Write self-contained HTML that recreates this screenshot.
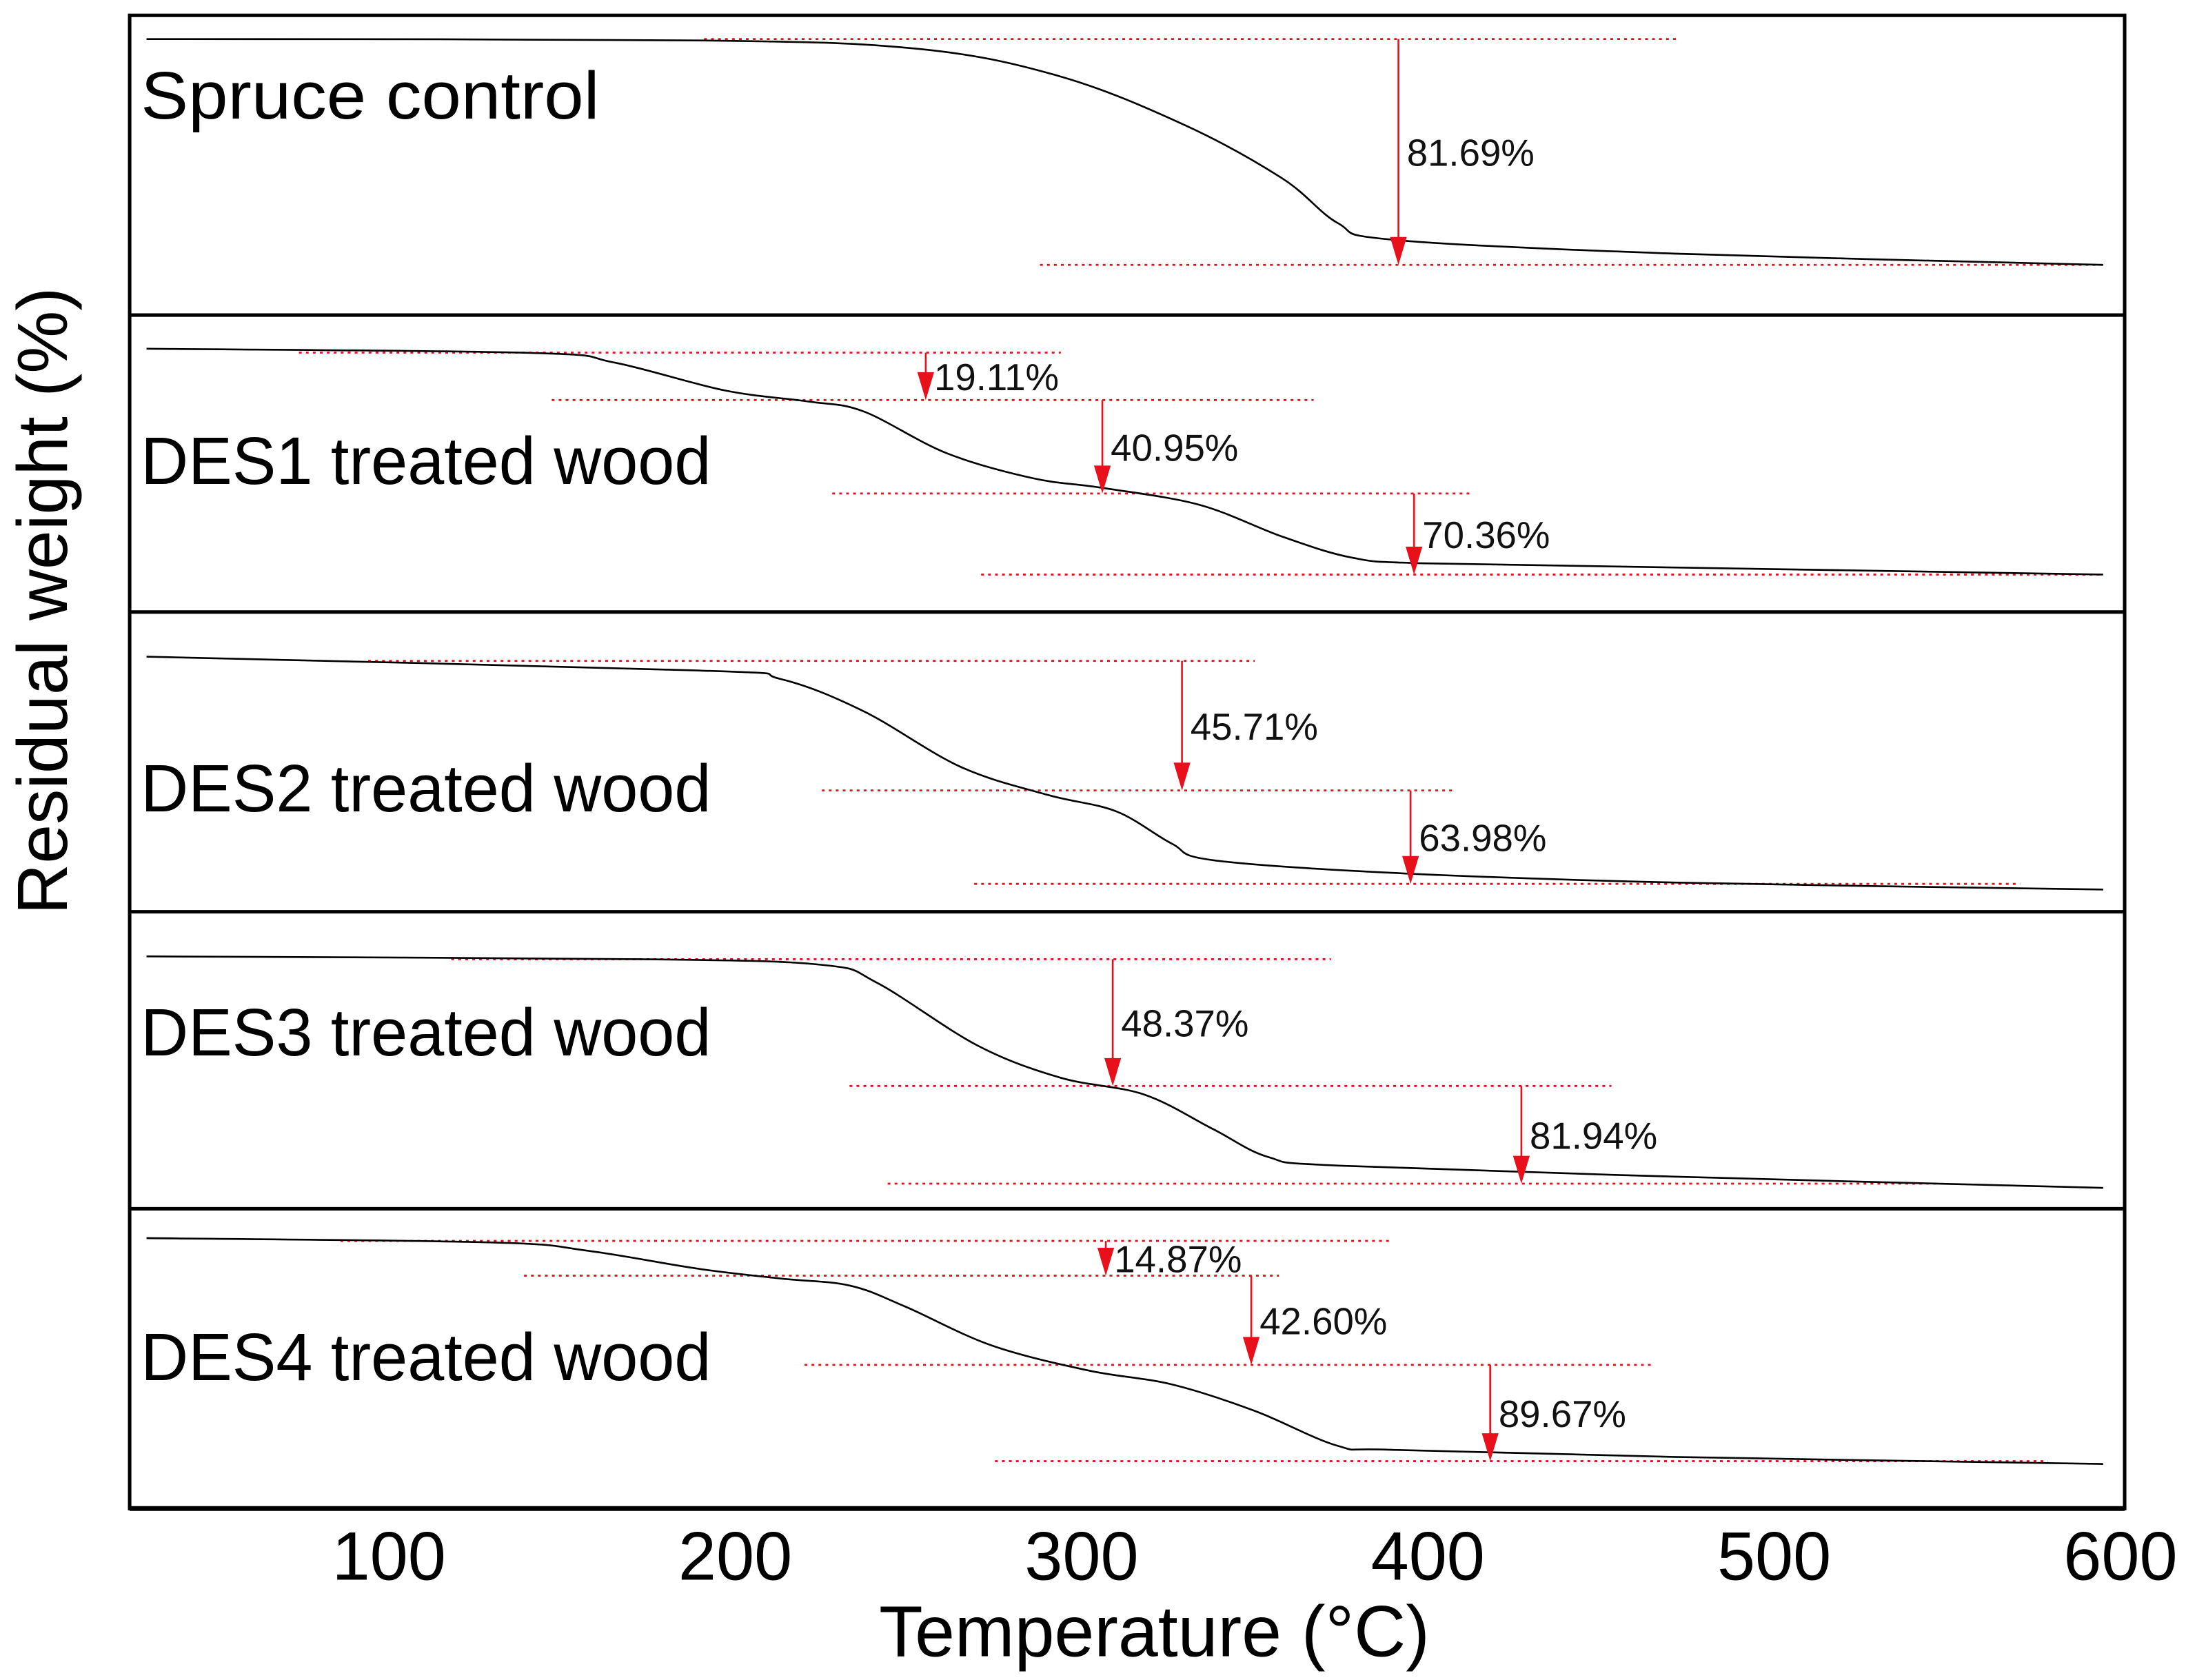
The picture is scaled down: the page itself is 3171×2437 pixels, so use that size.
<!DOCTYPE html>
<html><head><meta charset="utf-8"><style>
html,body{margin:0;padding:0;background:#fff;}
svg{display:block;font-family:"Liberation Sans",Arial,sans-serif;}
</style></head><body>
<svg id="chart" width="3171" height="2437" viewBox="0 0 1568 1205" preserveAspectRatio="none" xmlns="http://www.w3.org/2000/svg">
<rect x="0" y="0" width="1568" height="1205" fill="#fff"/>
<g id="marks"></g>
<g id="frame"></g>
<text transform="translate(48,431) rotate(-90)" text-anchor="middle" font-size="51" textLength="450" lengthAdjust="spacingAndGlyphs">Residual weight (%)</text>
<text x="828" y="1188" text-anchor="middle" font-size="52" textLength="395" lengthAdjust="spacingAndGlyphs">Temperature (°C)</text>
</svg>
<script>
// ---- data ----
const panelNames = ["Spruce control","DES1 treated wood","DES2 treated wood","DES3 treated wood","DES4 treated wood"];
const xTicks = [100,200,300,400,500,600];
const temps0 = [30,189,253,294,330,358,374,390,471,595];
const weights0 = [100,99.5,96.5,86.7,69.4,50.6,34.8,28.9,24,20];
const temps1 = [30,141,165,197,221,237,261,286,306,334,358,378,398,471,595];
const weights1 = [96.5,95,91.6,81.7,77.8,74.3,59.5,50.6,47.2,41.2,29.9,22.5,20.5,19,16.5];
const temps2 = [30,189,213,237,265,290,310,326,338,390,471,595];
const weights2 = [92.6,87.7,84.7,73.3,53.6,43.7,37.8,26.4,20.5,16.0,12.6,10.1];
const temps3 = [30,173,225,241,270,294,318,338,354,374,471,595];
const weights3 = [92.6,91.6,89.6,83.2,61,49.6,43.7,31.4,21.5,18.5,14.6,10.6];
const temps4 = [30,129,157,189,213,233,249,274,302,326,350,374,390,471,595];
const weights4 = [98,96.5,93.6,87.2,83.7,81.2,73.8,60,51.1,46.2,36.8,24.4,23,20.5,18];
// dotted guide lines: [T start, T end, weight]
const guides0 = [[191,472,100],[288,595,20]];
const guides1 = [[74,294,95.1],[147,367,78.3],[228,412,45.2],[271,595,16.5]];
const guides2 = [[94,350,91.1],[225,408,45.2],[269,571,12.1]];
const guides3 = [[118,372,91.6],[233,453,46.7],[244,547,12.1]];
const guides4 = [[86,389,97],[139,357,84.7],[220,465,53.1],[275,579,19]];
// arrows: [T, weight from, weight to]
const arrows0 = [[391.5,100,20]];
const arrows1 = [[255,95.1,78.3],[306,78.3,45.2],[396,45.2,16.5]];
const arrows2 = [[329,91.1,45.2],[395,45.2,12.1]];
const arrows3 = [[309,91.6,46.7],[427,46.7,12.1]];
const arrows4 = [[307,97,84.7],[349,84.7,53.1],[418,53.1,19]];
const labels0 = ["81.69%"];
const labels1 = ["19.11%","40.95%","70.36%"];
const labels2 = ["45.71%","63.98%"];
const labels3 = ["48.37%","81.94%"];
const labels4 = ["14.87%","42.60%","89.67%"];

const panelTops = [11,226,439,654,867];
const panelBottom = 1082;
const left = 93, right = 1524;
const NS = "http://www.w3.org/2000/svg";
function xs(t){ return 279 + (t-100)*2.484; }
function ys(p,w){ return panelTops[p] + 17 + (100-w)*2.025; }
function mk(tag, attrs, parent){
  const e = document.createElementNS(NS, tag);
  for (const k in attrs) e.setAttribute(k, attrs[k]);
  parent.appendChild(e); return e;
}
const marks = document.getElementById('marks');
const frame = document.getElementById('frame');
const allT=[temps0,temps1,temps2,temps3,temps4];
const allW=[weights0,weights1,weights2,weights3,weights4];
const allG=[guides0,guides1,guides2,guides3,guides4];
const allA=[arrows0,arrows1,arrows2,arrows3,arrows4];
const allL=[labels0,labels1,labels2,labels3,labels4];
const labelBase=[85,347,582,757,990];

function smoothPath(pts){
  let d="M"+pts[0][0]+","+pts[0][1];
  for(let i=0;i<pts.length-1;i++){
    const p0=pts[Math.max(0,i-1)],p1=pts[i],p2=pts[i+1],p3=pts[Math.min(pts.length-1,i+2)];
    const c1x=p1[0]+(p2[0]-p0[0])/6, c1y=p1[1]+(p2[1]-p0[1])/6;
    const c2x=p2[0]-(p3[0]-p1[0])/6, c2y=p2[1]-(p3[1]-p1[1])/6;
    d+=" C"+c1x+","+c1y+" "+c2x+","+c2y+" "+p2[0]+","+p2[1];
  }
  return d;
}

for(let p=0;p<5;p++){
  const g = mk('g',{},marks);
  
  
  allG[p].forEach((gd,i)=>{
    const l = mk('line',{x1:xs(gd[0]),x2:xs(gd[1]),y1:ys(p,gd[2]),y2:ys(p,gd[2]),stroke:'#e8101a','stroke-width':1.4,'stroke-dasharray':'2,3'},g);
    
    
  });
  const pts = allT[p].map((t,i)=>[xs(t),ys(p,allW[p][i])]);
  const path = mk('path',{d:smoothPath(pts),fill:'none',stroke:'#000','stroke-width':1.3},g);
  
  
  allA[p].forEach((a,i)=>{
    const x=xs(a[0]), y1=ys(p,a[1]), y2=ys(p,a[2]);
    const ln = mk('line',{x1:x,x2:x,y1:y1,y2:y2-4,stroke:'#e8101a','stroke-width':1.3},g);
    
    
    const hd = mk('polygon',{points:(x-6)+","+(y2-20)+" "+(x+6)+","+(y2-20)+" "+x+","+y2,fill:'#e8101a'},g);
    
    
    const tx = mk('text',{x:x+6,y:(y1+y2)/2+10,'font-size':27,fill:'#111'},g);
    tx.textContent = allL[p][i];
    
    
  });
  const nm = mk('text',{x:101,y:labelBase[p],'font-size':48,fill:'#000',textLength:(p===0?329:409),lengthAdjust:'spacingAndGlyphs'},g);
  nm.textContent = panelNames[p];
  
  
}
// frame
const box = mk('rect',{x:left,y:panelTops[0],width:right-left,height:panelBottom-panelTops[0],fill:'none',stroke:'#000','stroke-width':2.5},frame);


for(let p=1;p<5;p++){
  const d = mk('line',{x1:left,x2:right,y1:panelTops[p],y2:panelTops[p],stroke:'#000','stroke-width':2.5},frame);
  
  
}
const bl = mk('line',{x1:left,x2:right,y1:panelBottom,y2:panelBottom,stroke:'#000','stroke-width':3.5},frame);


xTicks.forEach(t=>{
  const tl = mk('text',{x:xs(t),y:1133,'text-anchor':'middle','font-size':49,fill:'#000'},frame);
  tl.textContent = String(t);
  
  
});
</script>
</body></html>
